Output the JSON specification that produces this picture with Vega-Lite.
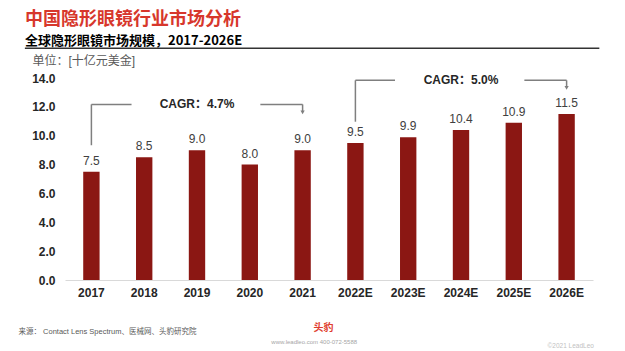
{
  "$schema": "https://vega.github.io/schema/vega-lite/v6.json",
  "width": 528,
  "height": 202,
  "autosize": "none",
  "padding": {"left": 65, "top": 78, "right": 32, "bottom": 71},
  "config": {
    "view": {"stroke": null},
    "font": "'Liberation Sans', 'Noto Sans CJK SC', sans-serif",
    "axis": {"grid": false}
  },
  "title": {
    "text": "中国隐形眼镜行业市场分析",
    "subtitle": "全球隐形眼镜市场规模，2017-2026E",
    "anchor": "start",
    "frame": "group",
    "dx": -40,
    "offset": 0,
    "font": "'Noto Sans CJK SC', sans-serif",
    "fontSize": 18,
    "fontWeight": "bold",
    "color": "#D7372C",
    "subtitleFont": "'Noto Sans CJK SC', sans-serif",
    "subtitleFontSize": 13,
    "subtitleFontWeight": "bold",
    "subtitleColor": "#000000",
    "subtitlePadding": 6
  },
  "datasets": {
    "bars": [
      {"year": "2017", "value": 7.5},
      {"year": "2018", "value": 8.5},
      {"year": "2019", "value": 9.0},
      {"year": "2020", "value": 8.0},
      {"year": "2021", "value": 9.0},
      {"year": "2022E", "value": 9.5},
      {"year": "2023E", "value": 9.9},
      {"year": "2024E", "value": 10.4},
      {"year": "2025E", "value": 10.9},
      {"year": "2026E", "value": 11.5}
    ],
    "segs": [
      {"x": 0, "x2": 0, "y": 9.34, "y2": 12.17},
      {"x": 0, "x2": 0.76, "y": 12.17, "y2": 12.17},
      {"x": 3.2, "x2": 4, "y": 12.17, "y2": 12.17},
      {"x": 4, "x2": 4, "y": 12.17, "y2": 11.7},
      {"x": 5, "x2": 5, "y": 10.97, "y2": 13.84},
      {"x": 5, "x2": 5.75, "y": 13.84, "y2": 13.84},
      {"x": 8.2, "x2": 9, "y": 13.84, "y2": 13.84},
      {"x": 9, "x2": 9, "y": 13.84, "y2": 13.4}
    ],
    "heads": [
      {"x": 4, "y": 11.62},
      {"x": 9, "y": 13.32}
    ],
    "cagr": [
      {"x": 2, "y": 12.17, "label": "CAGR：4.7%"},
      {"x": 7, "y": 13.84, "label": "CAGR：5.0%"}
    ],
    "header": [
      {"x": -1.26, "x2": 9.62, "y": 16.06}
    ],
    "url": [
      {"x": 4.22, "y": -4.3, "label": "www.leadleo.com   400-072-5588"}
    ]
  },
  "layer": [
    {
      "data": {"name": "bars"},
      "encoding": {
        "x": {
          "field": "year", "type": "nominal", "sort": null,
          "scale": {"paddingInner": 0.69, "paddingOuter": 0.345},
          "axis": {
            "title": "来源： Contact Lens Spectrum、医械网、头豹研究院",
            "titleX": -47, "titleY": 51, "titleAlign": "left", "titleBaseline": "middle",
            "titleFontSize": 7.5, "titleFontWeight": "normal", "titleColor": "#595959",
            "labelAngle": 0, "labelFontSize": 12, "labelFontWeight": "bold", "labelColor": "#262626",
            "labelPadding": 7, "ticks": false, "domainColor": "#d9d9d9", "domainWidth": 1
          }
        },
        "y": {
          "field": "value", "type": "quantitative",
          "scale": {"domain": [0, 14], "nice": false},
          "axis": {
            "values": [0, 2, 4, 6, 8, 10, 12, 14], "format": ".1f",
            "title": "单位：[十亿元美金]", "titleAngle": 0, "titleX": -33, "titleY": -18,
            "titleAlign": "left", "titleBaseline": "middle", "titleFontSize": 12,
            "titleFontWeight": "normal", "titleColor": "#595959",
            "labelFontSize": 12, "labelFontWeight": "bold", "labelColor": "#262626",
            "labelPadding": 10, "ticks": false, "domain": false
          }
        }
      },
      "layer": [
        {"mark": {"type": "bar", "color": "#8B1713"}},
        {
          "mark": {"type": "text", "baseline": "bottom", "dy": -4, "fontSize": 12, "color": "#404040"},
          "encoding": {"text": {"field": "value", "type": "quantitative", "format": ".1f"}}
        }
      ]
    },
    {
      "encoding": {
        "x": {
          "field": "x", "type": "quantitative",
          "scale": {"domain": [-0.5, 9.5], "nice": false, "zero": false},
          "axis": {
            "orient": "top", "labels": false, "ticks": false, "domain": false,
            "title": "©2021 LeadLeo", "titleX": 482, "titleY": 267, "titleAlign": "left",
            "titleBaseline": "middle", "titleFontSize": 6.5, "titleFontWeight": "normal",
            "titleColor": "#bfbfbf"
          }
        },
        "y": {
          "field": "y", "type": "quantitative",
          "axis": {
            "orient": "right", "labels": false, "ticks": false, "domain": false,
            "title": "头豹", "titleAngle": 0, "titleX": -270, "titleY": 249,
            "titleAlign": "center", "titleBaseline": "middle", "titleFontSize": 10,
            "titleFontWeight": "bold", "titleColor": "#E03C2D"
          }
        }
      },
      "layer": [
        {
          "data": {"name": "segs"},
          "mark": {"type": "rule", "color": "#7f7f7f", "strokeWidth": 1.5},
          "encoding": {"x2": {"field": "x2"}, "y2": {"field": "y2"}}
        },
        {
          "data": {"name": "heads"},
          "mark": {"type": "point", "shape": "triangle-down", "filled": true, "size": 18, "color": "#7f7f7f", "opacity": 1}
        },
        {
          "data": {"name": "cagr"},
          "mark": {"type": "text", "fontSize": 12, "fontWeight": "bold", "color": "#262626", "baseline": "middle"},
          "encoding": {"text": {"field": "label"}}
        },
        {
          "data": {"name": "header"},
          "mark": {"type": "rule", "color": "#333333", "strokeWidth": 1.5},
          "encoding": {"x2": {"field": "x2"}}
        },
        {
          "data": {"name": "url"},
          "mark": {"type": "text", "fontSize": 6, "color": "#a6a6a6", "baseline": "middle"},
          "encoding": {"text": {"field": "label"}}
        }
      ]
    }
  ],
  "resolve": {"scale": {"x": "independent"}, "axis": {"x": "independent", "y": "independent"}}
}
